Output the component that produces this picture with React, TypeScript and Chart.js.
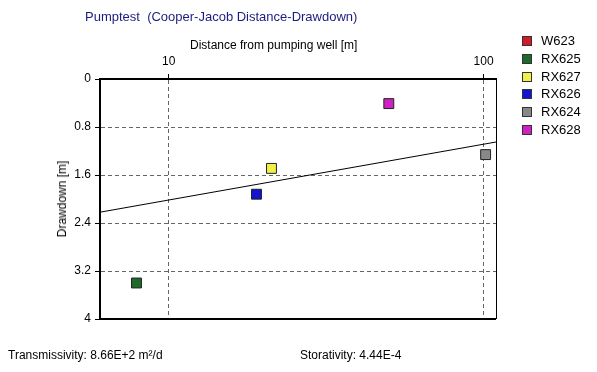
import React, { useEffect, useRef } from "react";
import { Chart, registerables } from "chart.js";

Chart.register(...registerables);

// ---- data ----
const seriesNames = ["W623", "RX625", "RX627", "RX626", "RX624", "RX628"];
const seriesColors = ["#d01c28", "#1e6a2a", "#f0f048", "#1414d0", "#888888", "#d020c4"];
const distances: (number | null)[] = [null, 7.9, 21.2, 19.0, 101.5, 50.0];
const drawdowns: (number | null)[] = [null, 3.4, 1.49, 1.92, 1.26, 0.41];
const fitDistances = [6.05, 109.5];
const fitDrawdowns = [2.22, 1.05];
const xTickValues = [10, 100];
const yTickValues = [0, 0.8, 1.6, 2.4, 3.2, 4];
const xRange = [6.05, 109.5];
const yRange = [0, 4];

const titleText = "Pumptest  (Cooper-Jacob Distance-Drawdown)";
const xTitle = "Distance from pumping well [m]";
const yTitle = "Drawdown [m]";
const footerLeft = "Transmissivity: 8.66E+2 m²/d";
const footerRight = "Storativity: 4.44E-4";

const FONT = '"Liberation Sans", Arial, sans-serif';

const framePlugin = {
  id: "frame",
  afterDatasetsDraw(chart: any) {
    const { ctx, chartArea: a } = chart;
    ctx.save();
    ctx.strokeStyle = "#000";
    ctx.lineWidth = 2;
    ctx.beginPath();
    ctx.moveTo(a.left, a.bottom);
    ctx.lineTo(a.right, a.bottom);
    ctx.stroke();
    ctx.lineWidth = 1;
    ctx.beginPath();
    ctx.moveTo(a.right + 0.5, a.top);
    ctx.lineTo(a.right + 0.5, a.bottom);
    ctx.stroke();
    ctx.restore();
  },
};

export default function App() {
  const ref = useRef<HTMLCanvasElement | null>(null);

  useEffect(() => {
    document.body.style.margin = "0";
    const canvas = ref.current;
    if (!canvas) return;

    const datasets: any[] = [
      {
        type: "line",
        label: "fit",
        data: fitDistances.map((x, i) => ({ x, y: fitDrawdowns[i] })),
        borderColor: "#000",
        borderWidth: 1,
        pointRadius: 0,
        showLine: true,
        fill: false,
      },
    ];
    seriesNames.forEach((name, i) => {
      const x = distances[i];
      const y = drawdowns[i];
      datasets.push({
        type: "scatter",
        label: name,
        data: x !== null && y !== null ? [{ x, y }] : [],
        pointStyle: "rect",
        pointRadius: 7,
        pointBackgroundColor: seriesColors[i],
        pointBorderColor: "#222",
        pointBorderWidth: 1,
      });
    });

    const chart = new Chart(canvas, {
      type: "scatter",
      data: { datasets },
      plugins: [framePlugin],
      options: {
        responsive: false,
        animation: false,
        layout: { padding: { left: 40, top: 35, right: 101, bottom: 53 } },
        plugins: { legend: { display: false }, tooltip: { enabled: false }, title: { display: false } },
        scales: {
          x: {
            type: "logarithmic",
            position: "top",
            min: xRange[0],
            max: xRange[1],
            afterBuildTicks: (s: any) => {
              s.ticks = xTickValues.map((v) => ({ value: v }));
            },
            afterFit: (s: any) => {
              s.height = 44;
            },
            ticks: {
              callback: (v: any) => String(v),
              color: "#000",
              font: { family: FONT, size: 12 },
              padding: 5,
              maxRotation: 0,
              autoSkip: false,
            },
            grid: { color: "#666", tickLength: 5, tickColor: "#000", tickBorderDash: [] },
            border: { display: true, color: "#000", width: 2, dash: [4, 3] },
          },
          y: {
            type: "linear",
            reverse: true,
            min: yRange[0],
            max: yRange[1],
            afterBuildTicks: (s: any) => {
              s.ticks = yTickValues.map((v) => ({ value: v }));
            },
            afterFit: (s: any) => {
              s.width = 60;
            },
            ticks: {
              callback: (v: any) => String(v),
              color: "#000",
              font: { family: FONT, size: 12 },
              padding: 4,
              autoSkip: false,
            },
            grid: { color: "#666", tickLength: 5, tickColor: "#000", tickBorderDash: [] },
            border: { display: true, color: "#000", width: 2, dash: [4, 3] },
          },
        },
      },
    } as any);

    return () => chart.destroy();
  }, []);

  const text: React.CSSProperties = {
    position: "absolute",
    fontFamily: FONT,
    fontSize: 12,
    color: "#000",
    whiteSpace: "pre",
    lineHeight: "14px",
  };

  return (
    <div style={{ position: "relative", width: 597, height: 372, background: "#fff", overflow: "hidden" }}>
      <canvas ref={ref} width={597} height={372} style={{ display: "block", position: "absolute", left: 0, top: 0 }} />
      <div style={{ ...text, left: 85, top: 10, color: "#1c1c80", fontSize: 13 }}>{titleText}</div>
      <div style={{ ...text, left: 190, top: 38 }}>{xTitle}</div>
      <div
        style={{
          ...text,
          left: 62,
          top: 199,
          transform: "translate(-50%, -50%) rotate(-90deg)",
        }}
      >
        {yTitle}
      </div>
      {seriesNames.map((name, i) => (
        <div key={name} style={{ position: "absolute", left: 522, top: 34 + i * 17.8, height: 14, display: "flex", alignItems: "center" }}>
          <div style={{ width: 8, height: 8, background: seriesColors[i], border: "1px solid #333" }} />
          <div style={{ ...text, position: "static", marginLeft: 9, fontSize: 13 }}>{name}</div>
        </div>
      ))}
      <div style={{ ...text, left: 8, top: 348 }}>{footerLeft}</div>
      <div style={{ ...text, left: 300, top: 348 }}>{footerRight}</div>
    </div>
  );
}
